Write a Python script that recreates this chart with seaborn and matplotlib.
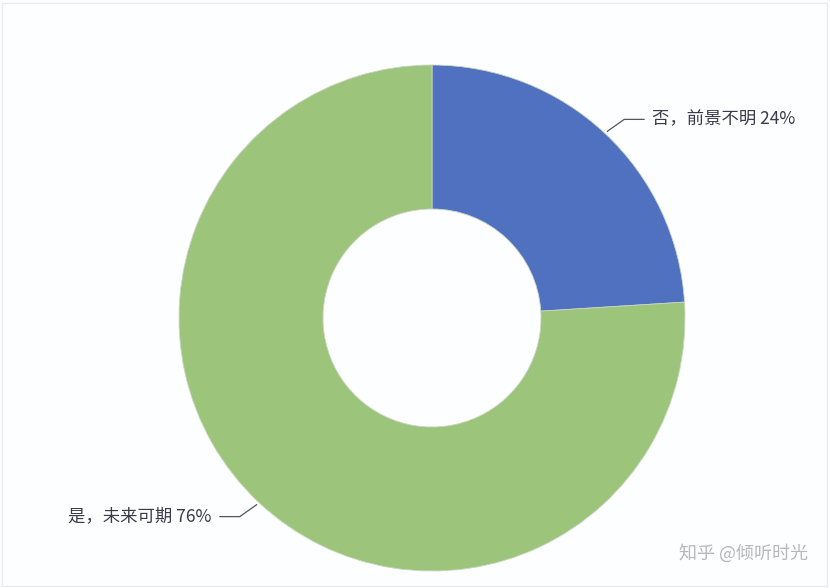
import numpy as np
import matplotlib.pyplot as plt
import seaborn as sns

labels = ["否，前景不明", "是，未来可期"]
values = [24, 76]
colors = ["#5070C0", "#9CC47A"]
watermark = "知乎 @倾听时光"

sns.set_theme(style="white")
plt.rcParams['font.family'] = ['Noto Sans CJK SC', 'DejaVu Sans']

W, H = 830, 588
fig = plt.figure(figsize=(W / 100, H / 100), dpi=100, facecolor="#fdfeff")
ax = fig.add_axes([0, 0, 1, 1])

cx, cy = 432, H - 318
r_out, r_in = 253, 109

wedges, _ = ax.pie(values, colors=colors, startangle=90, counterclock=False,
                   radius=r_out, center=(cx, cy), frame=True,
                   wedgeprops=dict(width=r_out - r_in, edgecolor="#c9d6c0", linewidth=0.6))
ax.set_xlim(0, W)
ax.set_ylim(0, H)
ax.set_aspect("equal")
ax.axis("off")

# leader lines + labels
for w, lab, v in zip(wedges, labels, values):
    ang = np.deg2rad((w.theta1 + w.theta2) / 2)
    x0 = cx + (r_out + 3) * np.cos(ang)
    y0 = cy + (r_out + 3) * np.sin(ang)
    sx = np.sign(np.cos(ang))
    x1 = x0 + sx * 17
    y1 = y0 + np.sign(np.sin(ang)) * 12
    x2 = x1 + sx * 20
    ax.plot([x0, x1, x2], [y0, y1, y1], color="#555555", lw=0.9)
    ax.text(x2 + sx * 8, y1, "{} {}%".format(lab, v), ha="left" if sx > 0 else "right",
            va="center", fontsize=12.5, color="#3a3a4a")

ax.text(808, H - 553, watermark, ha="right", va="center", fontsize=13,
        color="#b8b8b8")

# faint frame round the picture
ax.plot([2, W - 3, W - 3, 2, 2], [2, 2, H - 3, H - 3, 2], color="#e8ecef", lw=1)

fig.savefig("out.png", dpi=100, facecolor=fig.get_facecolor())
